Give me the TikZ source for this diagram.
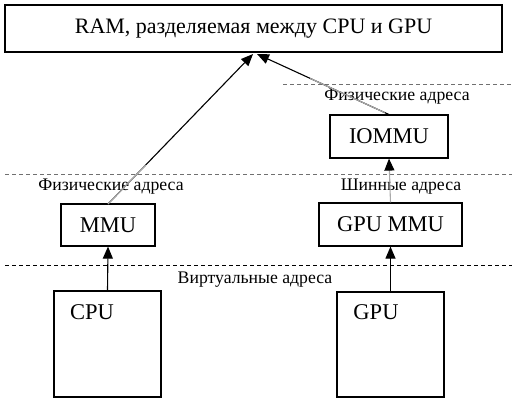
\documentclass[tikz,border=0pt]{standalone}
\usepackage{fontspec}
\setmainfont{Liberation Serif}
\usetikzlibrary{arrows.meta,calc}
\definecolor{lgray}{HTML}{AAAAAA}
\definecolor{dgray}{HTML}{707070}
\begin{document}
\begin{tikzpicture}[x=1pt,y=-1pt,
  blk/.style={draw,line width=1.2pt,inner sep=0pt},
  lbl/.style={inner sep=0pt,font=\fontsize{17.7}{20}\selectfont},
  boxtxt/.style={font=\fontsize{22.5}{26}\selectfont},
  arr/.style={line width=1.1pt,-{Triangle[length=12pt,width=10pt]}},
  dsh/.style={line width=0.9pt,dash pattern=on 4pt off 3pt}]
\useasboundingbox (0,0) rectangle (517,407);
% boxes
\node[blk,minimum width=497pt,minimum height=47pt,font=\fontsize{22}{26}\selectfont] (ram) at (253.5,28.5) {RAM, разделяемая между CPU и GPU};
\node[blk,minimum width=118pt,minimum height=43pt,boxtxt] (iommu) at (389,136.5) {IOMMU};
\node[blk,minimum width=94pt,minimum height=42pt,boxtxt] (mmu) at (108,225) {MMU};
\node[blk,minimum width=143pt,minimum height=43pt,boxtxt] (gmmu) at (390.5,224.5) {GPU MMU};
\node[blk,minimum width=107pt,minimum height=106pt] (cpu) at (107.5,344) {};
\node[blk,minimum width=107pt,minimum height=105pt] (gpu) at (390.5,344.5) {};
\node[boxtxt] (cputxt) at (92,312) {CPU};
\node[boxtxt] (gputxt) at (376,312) {GPU};
% dashed lines
\coordinate (d1a) at (283,84); \coordinate (d1b) at (512,84);
\coordinate (d2a) at (5,174); \coordinate (d2b) at (512,174);
\coordinate (d3a) at (5,265); \coordinate (d3b) at (512,265);
\draw[dsh,dgray] (d1a) -- (d1b);
\draw[dsh,dgray] (d2a) -- (d2b);
\draw[dsh,black] (d3a) -- (d3b);
% labels
\node[lbl] (l1) at (397,97) {Физические адреса};
\node[lbl] (l2) at (111,187) {Физические адреса};
\node[lbl] (l3) at (401,187) {Шинные адреса};
\node[lbl] (l4) at (255,280) {Виртуальные адреса};
% connectors
\coordinate (r1) at (253,54);
\coordinate (r2) at (257,54);
\coordinate (m1) at (108,204);
\coordinate (i1) at (390,115);
\draw[arr] (m1) -- (r1);
\draw[arr] (i1) -- (r2);
\draw[lgray,line width=1.1pt] (m1) -- ($(m1)!0.26!(r1)$);
\draw[lgray,line width=1.1pt] ($(i1)!0.04!(r2)$) -- ($(i1)!0.6!(r2)$);
\draw[arr] (cpu.north) -- (mmu.south);
\draw[arr] (gpu.north) -- (gmmu.south);
\draw[line width=1.1pt,lgray,-{Triangle[length=12pt,width=10pt,color=black]}] (gmmu.north) -- (iommu.south);
\end{tikzpicture}
\end{document}
